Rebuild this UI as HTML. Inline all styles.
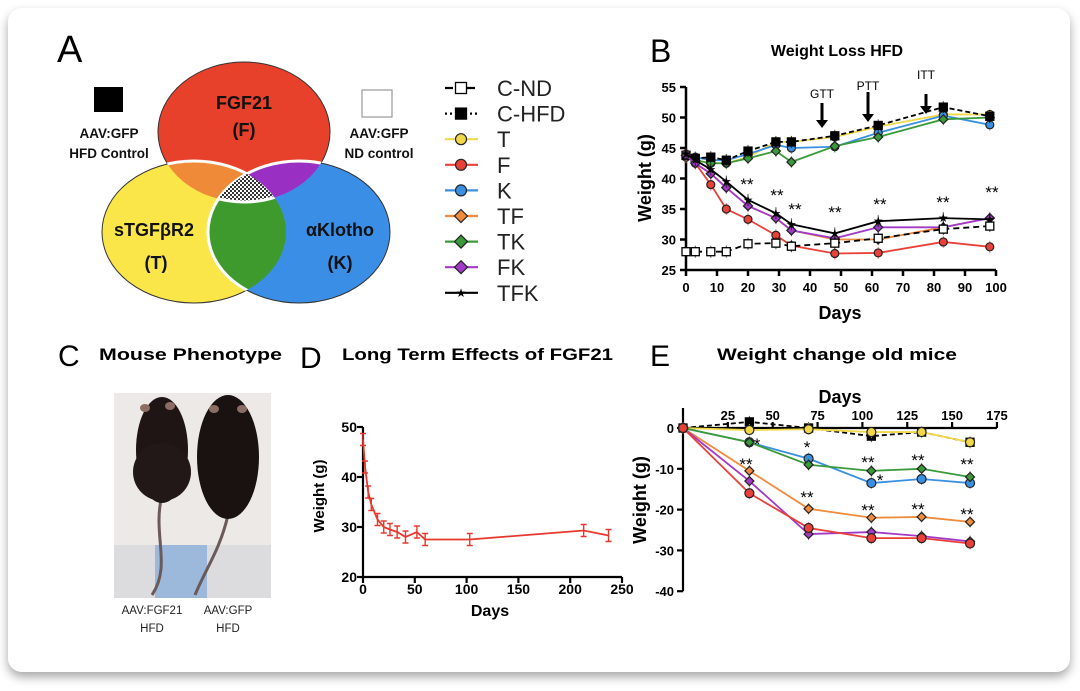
<!DOCTYPE html>
<html><head><meta charset="utf-8">
<style>
html,body{margin:0;padding:0;background:#fff;}
svg{display:block;font-family:"Liberation Sans",sans-serif;}
</style></head>
<body>
<svg id="fig" width="1080" height="691" viewBox="0 0 1080 691" xmlns="http://www.w3.org/2000/svg">
<defs>
  <filter id="sh" x="-5%" y="-5%" width="110%" height="115%">
    <feDropShadow dx="0" dy="5" stdDeviation="5" flood-color="#000" flood-opacity="0.35"/>
  </filter>
  <pattern id="chk" width="4" height="4" patternUnits="userSpaceOnUse">
    <rect width="4" height="4" fill="#fff"/><rect width="2" height="2" fill="#333"/><rect x="2" y="2" width="2" height="2" fill="#333"/>
  </pattern>
  <clipPath id="cR"><ellipse cx="244" cy="132" rx="86" ry="70"/></clipPath>
  <clipPath id="cY"><ellipse cx="194" cy="232" rx="92" ry="71"/></clipPath>
  <clipPath id="cB"><ellipse cx="299" cy="232" rx="91" ry="71"/></clipPath>
</defs>
<rect x="8" y="8" width="1062" height="664" rx="14" fill="#fff" filter="url(#sh)"/>

<!-- Panel A -->
<g>
  <text x="57" y="62" font-size="38" fill="#000">A</text>
  <g>
    <ellipse cx="244" cy="132" rx="86" ry="70" fill="#e8412b" stroke="#333" stroke-width="1"/>
    <ellipse cx="194" cy="232" rx="92" ry="71" fill="#fbe64a" stroke="#333" stroke-width="1"/>
    <ellipse cx="299" cy="232" rx="91" ry="71" fill="#3b8ee6" stroke="#333" stroke-width="1"/>
    <g clip-path="url(#cR)"><ellipse cx="194" cy="232" rx="92" ry="71" fill="#ef8a38" stroke="#fff" stroke-width="3"/></g>
    <g clip-path="url(#cR)"><ellipse cx="299" cy="232" rx="91" ry="71" fill="#9a2fc4" stroke="#fff" stroke-width="3"/></g>
    <g clip-path="url(#cY)"><ellipse cx="299" cy="232" rx="91" ry="71" fill="#3f9a2e" stroke="#fff" stroke-width="3"/></g>
    <g clip-path="url(#cY)"><g clip-path="url(#cB)"><ellipse cx="244" cy="132" rx="86" ry="70" fill="url(#chk)" stroke="#fff" stroke-width="3"/></g></g>
  </g>
  <g font-weight="bold" text-anchor="middle" fill="#111">
    <text x="244" y="109" font-size="18">FGF21</text>
    <text x="244" y="136" font-size="18">(F)</text>
    <text x="154" y="236" font-size="18">sTGFβR2</text>
    <text x="156" y="269" font-size="18">(T)</text>
    <text x="340" y="236" font-size="18">αKlotho</text>
    <text x="340" y="269" font-size="18">(K)</text>
    <text x="109" y="138" font-size="13.5">AAV:GFP</text>
    <text x="109" y="158" font-size="13.5">HFD Control</text>
    <text x="379" y="138" font-size="13.5">AAV:GFP</text>
    <text x="379" y="158" font-size="13.5">ND control</text>
  </g>
  <rect x="94" y="87" width="29" height="25" fill="#000"/>
  <rect x="362" y="90" width="30" height="27" fill="#fff" stroke="#999" stroke-width="1.2"/>
  <g id="legend"></g>
</g>

<!-- Panel B -->
<g>
  <text x="650" y="62" font-size="32">B</text>
  <text x="837" y="56" font-size="16" font-weight="bold" text-anchor="middle">Weight Loss HFD</text>
  <g id="chartB"></g>
</g>

<!-- Panel C -->
<g>
  <text x="58" y="366" font-size="30">C</text>
  <text x="99" y="360" font-size="17" font-weight="bold" textLength="183" lengthAdjust="spacingAndGlyphs">Mouse Phenotype</text>
  <g>
    <rect x="114" y="393" width="157" height="205" fill="#ece9e6"/>
    <rect x="114" y="545" width="157" height="53" fill="#dcdcde"/>
    <rect x="155" y="545" width="52" height="53" fill="#9cb9dc"/>
    <path d="M162 495 C152 535 172 565 152 595" stroke="#6a5a58" stroke-width="3" fill="none"/>
    <path d="M228 515 C220 550 205 570 195 595" stroke="#6a5a58" stroke-width="3" fill="none"/>
    <ellipse cx="162" cy="450" rx="26" ry="53" fill="#1e1514"/>
    <ellipse cx="162" cy="472" rx="29" ry="29" fill="#221817"/>
    <ellipse cx="228" cy="457" rx="31" ry="62" fill="#1a1211"/>
    <ellipse cx="145" cy="408" rx="5" ry="4" fill="#8b6d66"/><ellipse cx="170" cy="406" rx="5" ry="4" fill="#8b6d66"/>
    <ellipse cx="214" cy="409" rx="5" ry="4" fill="#8b6d66"/><ellipse cx="242" cy="409" rx="5" ry="4" fill="#8b6d66"/>
  </g>
  <g font-size="11.5" text-anchor="middle" fill="#222">
    <text x="152" y="614">AAV:FGF21</text>
    <text x="152" y="632">HFD</text>
    <text x="228" y="614">AAV:GFP</text>
    <text x="228" y="632">HFD</text>
  </g>
</g>

<!-- Panel D -->
<g>
  <text x="300" y="368" font-size="30">D</text>
  <text x="342" y="360" font-size="17" font-weight="bold" textLength="271" lengthAdjust="spacingAndGlyphs">Long Term Effects of FGF21</text>
  <g id="chartD"></g>
</g>

<!-- Panel E -->
<g>
  <text x="650" y="366" font-size="30">E</text>
  <text x="717" y="360" font-size="17" font-weight="bold" textLength="240" lengthAdjust="spacingAndGlyphs">Weight change old mice</text>
  <g id="chartE"></g>
</g>
</svg>
<script>
const NS = "http://www.w3.org/2000/svg";
// ---- Panel B data ----
const daysB = [0,3,8,13,20,29,34,48,62,83,98];
const bCND  = [28,28,28,28,29.3,29.4,28.9,29.4,30.2,31.7,32.2];
const bCHFD = [43.8,43.3,43.5,43,44.5,46,46,47,48.7,51.7,50.2];
const bT    = [43.5,43,42.5,42.5,43.5,46,46,46.8,48.5,50.5,50.5];
const bK    = [44,43.5,43,43,44,45.5,45,45.2,47.5,50.3,48.8];
const bTK   = [43.8,43,42.5,42.5,43.3,44.5,42.7,45.3,46.8,49.7,50];
const bF    = [44,42.5,39,35,33.3,30.7,29,27.7,27.8,29.6,28.8];
const bTF   = [43.8,42.5,40.8,38.5,35.5,33.5,31.5,30,30,32,33.5];
const bFK   = [43.8,42.5,40.8,38.5,35.5,33.5,31.5,30.2,32,32,33.5];
const bTFK  = [44,43,41.5,39.5,36.5,34.3,32.5,31,33,33.5,33.3];
const ticksBx = [0,10,20,30,40,50,60,70,80,90,100];
const ticksBy = [25,30,35,40,45,50,55];
// ---- Panel D data ----
const daysD = [0,2,5,8,14,20,26,33,41,52,60,103,213,237];
const valsD = [47.5,42,37,34.5,31.5,30,29.5,29,28,29,27.5,27.5,29.3,28.3];
const ticksDx = [0,50,100,150,200,250];
const ticksDy = [20,30,40,50];
// ---- Panel E data ----
const daysE = [0,37,70,105,133,160];
const eCHFD = [0,1.5,0,-2,-1,-3.5];
const eT    = [0,-0.5,-0.3,-1,-1,-3.5];
const eK    = [0,-3.5,-7.5,-13.5,-12.5,-13.5];
const eTK   = [0,-3.5,-9,-10.5,-10,-12];
const eTF   = [0,-10.5,-19.8,-22,-21.8,-23];
const eFK   = [0,-13,-26,-25.5,-26.5,-27.8];
const eF    = [0,-16,-24.5,-27,-27,-28.3];
const ticksEx = [25,50,75,100,125,150,175];
const ticksEy = [0,-10,-20,-30,-40];

const COL = {CND:"#000",CHFD:"#000",T:"#f1d84a",F:"#e8413a",K:"#3a90e0",TF:"#f08a3c",TK:"#3a9a3a",FK:"#a23ac8",TFK:"#000"};

function el(tag, attrs, parent){
  const e = document.createElementNS(NS, tag);
  for (const k in attrs) e.setAttribute(k, attrs[k]);
  if (parent) parent.appendChild(e);
  return e;
}
function txt(parent, x, y, s, size, extra){
  const t = el("text", Object.assign({x:x, y:y, "font-size":size}, extra||{}), parent);
  t.textContent = s;
  return t;
}
function marker(g, type, x, y, color, r){
  let m;
  if (type==="sq" || type==="sqf") m = el("rect",{x:x-r,y:y-r,width:2*r,height:2*r,fill:type==="sq"?"#fff":"#000",stroke:"#000","stroke-width":1.3},g);
  else if (type==="di") m = el("polygon",{points:`${x},${y-r-1} ${x+r+1},${y} ${x},${y+r+1} ${x-r-1},${y}`,fill:color,stroke:"#222","stroke-width":1.2},g);
  else if (type==="st") m = el("text",{x:x,y:y+4,"font-size":12,"text-anchor":"middle",fill:"#000"},g), m.textContent="★";
  else m = el("circle",{cx:x,cy:y,r:r,fill:color,stroke:"#222","stroke-width":1.2},g);
  return m;
}
function series(g, name, xs, ys, sx, sy, color, type, dash, r){
  const sg = el("g", {}, g);
  
  
  const pts = xs.map((d,i)=>sx(d)+","+sy(ys[i])).join(" ");
  const line = el("polyline",{points:pts,fill:"none",stroke:color,"stroke-width":1.8},sg);
  if (dash) line.setAttribute("stroke-dasharray", dash);
  
  
  xs.forEach((d,i)=>{
    const x=sx(d), y=sy(ys[i]);
    el("line",{x1:x,x2:x,y1:y-6,y2:y+6,stroke:color,"stroke-width":1,opacity:0.7},sg);
    const m = marker(sg, type, x, y, color, r);
    
    
  });
}

// ---- Legend ----
const legNames = ["C-ND","C-HFD","T","F","K","TF","TK","FK","TFK"];
const legTypes = ["sq","sqf","ci","ci","ci","di","di","di","st"];
const legKeys = ["CND","CHFD","T","F","K","TF","TK","FK","TFK"];
(function(){
  const g = document.getElementById("legend");
  legNames.forEach((n,i)=>{
    const y = 88 + i*25.6;
    const eg = el("g",{},g);
    
    
    const ln = el("line",{x1:445,x2:478,y1:y,y2:y,stroke:COL[legKeys[i]],"stroke-width":2.2},eg);
    if (i===0) ln.setAttribute("stroke-dasharray","8 3");
    if (i===1) ln.setAttribute("stroke-dasharray","2 3");
    marker(eg, legTypes[i], 461, y, COL[legKeys[i]], 5.5);
    txt(eg, 497, y+8, n, 22, {fill:"#222"});
  });
})();

// ---- Chart B ----
(function(){
  const g = document.getElementById("chartB");
  const sx = d => 686 + (d-0)*3.10;
  const sy = v => 270 - (v-25)*6.1;
  const ax = el("g",{stroke:"#000","stroke-width":2.5},g);
   
  el("line",{x1:686,x2:686,y1:sy(55),y2:270},ax);
  el("line",{x1:686,x2:sx(100),y1:270,y2:270},ax);
  ticksBy.forEach(v=>{
    el("line",{x1:680,x2:686,y1:sy(v),y2:sy(v)},ax);
    const t = txt(g, 676, sy(v)+5, String(v), 13, {"font-weight":"bold","text-anchor":"end"});
     
  });
  ticksBx.forEach(d=>{
    el("line",{x1:sx(d),x2:sx(d),y1:270,y2:276},ax);
    const t = txt(g, sx(d), 292, String(d), 13, {"font-weight":"bold","text-anchor":"middle"});
     
  });
  const xt = txt(g, 840, 319, "Days", 18, {"font-weight":"bold","text-anchor":"middle"});
   
  const yt = txt(g, 0, 0, "Weight (g)", 18, {"font-weight":"bold","text-anchor":"middle",transform:"translate(651,178) rotate(-90)"});
   
  series(g,"t",daysB,bT,sx,sy,COL.T,"ci",null,4);
  series(g,"k",daysB,bK,sx,sy,COL.K,"ci",null,4);
  series(g,"tk",daysB,bTK,sx,sy,COL.TK,"di",null,3.5);
  series(g,"c-hfd",daysB,bCHFD,sx,sy,"#000","sqf","5 3",4);
  series(g,"f",daysB,bF,sx,sy,COL.F,"ci",null,4);
  series(g,"tf",daysB,bTF,sx,sy,COL.TF,"di",null,3.5);
  series(g,"fk",daysB,bFK,sx,sy,COL.FK,"di",null,3.5);
  series(g,"tfk",daysB,bTFK,sx,sy,"#000","st",null,4);
  series(g,"c-nd",daysB,bCND,sx,sy,"#000","sq","6 4",4);
  [["**",747,190],["**",777,201],["**",795,215],["**",835,218],["**",880,210],["**",943,208],["**",992,198]].forEach(a=>{
    const t = txt(g,a[1],a[2],a[0],17,{"text-anchor":"middle"});  
  });
  [["GTT",822,98,103,128],["PTT",868,90,92,122],["ITT",926,79,94,114]].forEach(a=>{
    const t = txt(g,a[1],a[2],a[0],12,{"text-anchor":"middle"});
     
    el("line",{x1:a[1],x2:a[1],y1:a[3],y2:a[4]-6,stroke:"#000","stroke-width":3},g);
    el("polygon",{points:`${a[1]-6},${a[4]-8} ${a[1]+6},${a[4]-8} ${a[1]},${a[4]}`,fill:"#000"},g);
  });
})();

// ---- Chart D ----
(function(){
  const g = document.getElementById("chartD");
  const sx = d => 363 + d*1.036;
  const sy = v => 577 - (v-20)*5.0;
  const ax = el("g",{stroke:"#000","stroke-width":2.2},g);
   
  el("line",{x1:363,x2:363,y1:sy(50),y2:577},ax);
  el("line",{x1:363,x2:sx(250),y1:577,y2:577},ax);
  ticksDy.forEach(v=>{
    el("line",{x1:357,x2:363,y1:sy(v),y2:sy(v)},ax);
    const t = txt(g,357,sy(v)+5,String(v),14,{"font-weight":"bold","text-anchor":"end"});
     
  });
  ticksDx.forEach(d=>{
    el("line",{x1:sx(d),x2:sx(d),y1:577,y2:583},ax);
    const t = txt(g,sx(d),594,String(d),14,{"font-weight":"bold","text-anchor":"middle"});
     
  });
  const xt = txt(g,490,616,"Days",16,{"font-weight":"bold","text-anchor":"middle"});
   
  const yt = txt(g,0,0,"Weight (g)",15,{"font-weight":"bold","text-anchor":"middle",transform:"translate(324,496) rotate(-90)"});
   
  const sg = el("g",{},g);
   
  el("polyline",{points:daysD.map((d,i)=>sx(d)+","+sy(valsD[i])).join(" "),fill:"none",stroke:"#e8382e","stroke-width":1.8},sg);
  daysD.forEach((d,i)=>{
    const x=sx(d), y=sy(valsD[i]);
    const e = el("path",{d:`M${x-3} ${y-6}H${x+3}M${x} ${y-6}V${y+6}M${x-3} ${y+6}H${x+3}`,stroke:"#e8382e","stroke-width":1.4,fill:"none"},sg);
     
  });
})();

// ---- Chart E ----
(function(){
  const g = document.getElementById("chartE");
  const sx = d => 683 + d*1.794;
  const sy = v => 428 - v*4.08;
  const ax = el("g",{stroke:"#000","stroke-width":2.2},g);
   
  el("line",{x1:683,x2:683,y1:408,y2:sy(-40)},ax);
  el("line",{x1:683,x2:sx(175),y1:428,y2:428},ax);
  ticksEy.forEach(v=>{
    el("line",{x1:677,x2:683,y1:sy(v),y2:sy(v)},ax);
    const t = txt(g,674,sy(v)+5,String(v),13,{"font-weight":"bold","text-anchor":"end"});
     
  });
  ticksEx.forEach(d=>{
    el("line",{x1:sx(d),x2:sx(d),y1:422,y2:428},ax);
    const t = txt(g,sx(d),420,String(d),13,{"font-weight":"bold","text-anchor":"middle"});
     
  });
  const xt = txt(g,840,403,"Days",18,{"font-weight":"bold","text-anchor":"middle"});
   
  const yt = txt(g,0,0,"Weight (g)",18,{"font-weight":"bold","text-anchor":"middle",transform:"translate(646,500) rotate(-90)"});
   
  series(g,"c-hfd",daysE,eCHFD,sx,sy,"#000","sqf","5 3",4);
  series(g,"t",daysE,eT,sx,sy,COL.T,"ci",null,4.5);
  series(g,"k",daysE,eK,sx,sy,COL.K,"ci",null,4.5);
  series(g,"tk",daysE,eTK,sx,sy,COL.TK,"di",null,3.5);
  series(g,"tf",daysE,eTF,sx,sy,COL.TF,"di",null,3.5);
  series(g,"fk",daysE,eFK,sx,sy,COL.FK,"di",null,3.5);
  series(g,"f",daysE,eF,sx,sy,COL.F,"ci",null,4.5);
  [["*",757,450],["**",746,470],["*",807,453],["**",807,503],["**",868,468],["*",880,486],["**",868,516],["**",918,466],["**",918,515],["**",967,470],["**",967,520]].forEach(a=>{
    const t = txt(g,a[1],a[2],a[0],17,{"text-anchor":"middle"});  
  });
})();
</script>
</body></html>
